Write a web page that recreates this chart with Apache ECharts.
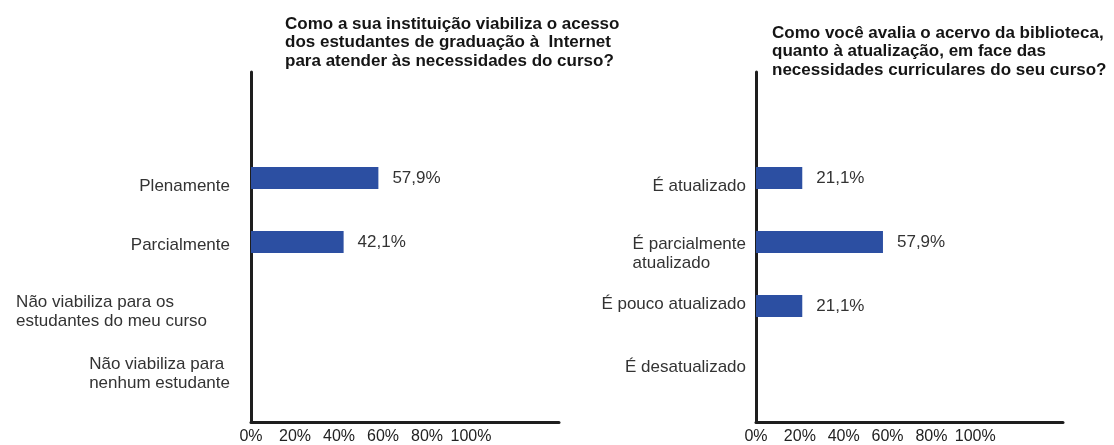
<!DOCTYPE html>
<html>
<head>
<meta charset="utf-8">
<script src="https://cdn.jsdelivr.net/npm/echarts@6/dist/echarts.min.js"></script>
<style>
html,body{margin:0;padding:0;background:#fff;}
#chart{width:1114px;height:445px;}
</style>
</head>
<body>
<div id="chart"></div>
<script>
const leftTitle = 'Como a sua instituição viabiliza o acesso\ndos estudantes de graduação à  Internet\npara atender às necessidades do curso?';
const rightTitle = 'Como você avalia o acervo da biblioteca,\nquanto à atualização, em face das\nnecessidades curriculares do seu curso?';
const leftCategories = ['Plenamente', 'Parcialmente', 'Não viabiliza para os\nestudantes do meu curso', 'Não viabiliza para\nnenhum estudante'];
const leftValues = [57.9, 42.1, 0, 0];
const rightCategories = ['É atualizado', 'É parcialmente\natualizado', 'É pouco atualizado', 'É desatualizado'];
const rightValues = [21.1, 57.9, 21.1, 0];
const tickLabels = ['0%', '20%', '40%', '60%', '80%', '100%'];

// layout tweaks for category labels (vertical nudge, extra right padding), not data
const leftLabelNudge = [8, 3, 6, 4];
const leftLabelPadRight = [0, 0, 23, 0];
const rightLabelNudge = [8, 12, -2, -3];
const rightLabelPadRight = [0, 0, 0, 0];

const FONT = "'Liberation Sans', Arial, Helvetica, sans-serif";
const BAR = '#2c4fa2';
const TXT = '#333333';
const AX = '#1e1e1e';
const LH = 19;

const chart = echarts.init(document.getElementById('chart'), null, {renderer: 'canvas'});

function makeLabel(cats, nudges, padRights) {
  const rich = {};
  cats.forEach((c, i) => {
    const n = nudges[i] || 0, pr = padRights[i] || 0;
    const lines = c.split('\n').length;
    for (let k = 0; k < lines; k++) {
      const top = (k === 0 && n > 0) ? 2 * n : 0;
      const bottom = (k === lines - 1 && n < 0) ? -2 * n : 0;
      rich['s' + i + '_' + k] = {
        align: 'left', fontSize: 17, fontFamily: FONT, color: TXT,
        lineHeight: LH + top + bottom,
        padding: [top, pr, bottom, 0]
      };
    }
  });
  return {
    rich: rich,
    formatter: function (v, i) {
      return v.split('\n').map((s, k) => '{s' + i + '_' + k + '|' + s + '}').join('\n');
    }
  };
}

function frameAxes(gi) {
  return {
    x: {
      gridIndex: gi, type: 'value', min: 0, max: 140, interval: 20,
      axisLine: {show: true, onZero: false, lineStyle: {color: AX, width: 3}},
      axisTick: {show: false}, splitLine: {show: false},
      axisLabel: {
        margin: 7, fontSize: 16, fontFamily: FONT, color: '#222',
        formatter: v => tickLabels[Math.round(v / 20)] || ''
      }
    },
    y: {
      gridIndex: gi, type: 'value', min: 0, max: 1,
      axisLine: {show: true, onZero: false, lineStyle: {color: AX, width: 3}},
      axisTick: {show: false}, splitLine: {show: false}, axisLabel: {show: false}
    }
  };
}
function dataAxes(gi, cats, margin, nudges, padRights) {
  const lab = makeLabel(cats, nudges, padRights);
  return {
    x: {gridIndex: gi, type: 'value', min: 0, max: 140, show: false},
    y: {
      gridIndex: gi, type: 'category', inverse: true, data: cats,
      axisLine: {show: false}, axisTick: {show: false}, splitLine: {show: false},
      axisLabel: {
        margin: margin, fontSize: 17, lineHeight: LH, fontFamily: FONT, color: TXT,
        formatter: lab.formatter, rich: lab.rich
      }
    }
  };
}
const lf = frameAxes(0), ld = dataAxes(1, leftCategories, 21, leftLabelNudge, leftLabelPadRight);
const rf = frameAxes(2), rd = dataAxes(3, rightCategories, 10, rightLabelNudge, rightLabelPadRight);

function barSeries(xi, vals) {
  return {
    type: 'bar', xAxisIndex: xi, yAxisIndex: xi, data: vals, barWidth: 22,
    itemStyle: {color: BAR},
    label: {
      show: true, position: 'right', distance: 14, fontSize: 17, fontFamily: FONT, color: TXT,
      formatter: p => p.value ? p.value.toFixed(1).replace('.', ',') + '%' : ''
    },
    silent: true, animation: false
  };
}

const titleStyle = {fontSize: 17, fontWeight: 'bold', lineHeight: 18.5, fontFamily: FONT, color: '#151515'};
chart.setOption({
  backgroundColor: '#ffffff',
  animation: false,
  title: [
    {text: leftTitle, left: 285, top: 15, padding: 0, textStyle: titleStyle},
    {text: rightTitle, left: 772, top: 24, padding: 0, textStyle: titleStyle}
  ],
  grid: [
    {left: 251, top: 72, width: 308, height: 354},
    {left: 251, top: 146, width: 308, height: 256},
    {left: 756, top: 72, width: 307, height: 354},
    {left: 756, top: 146, width: 307, height: 256}
  ],
  xAxis: [lf.x, ld.x, rf.x, rd.x],
  yAxis: [lf.y, ld.y, rf.y, rd.y],
  series: [barSeries(1, leftValues), barSeries(3, rightValues)]
});
</script>
</body>
</html>
